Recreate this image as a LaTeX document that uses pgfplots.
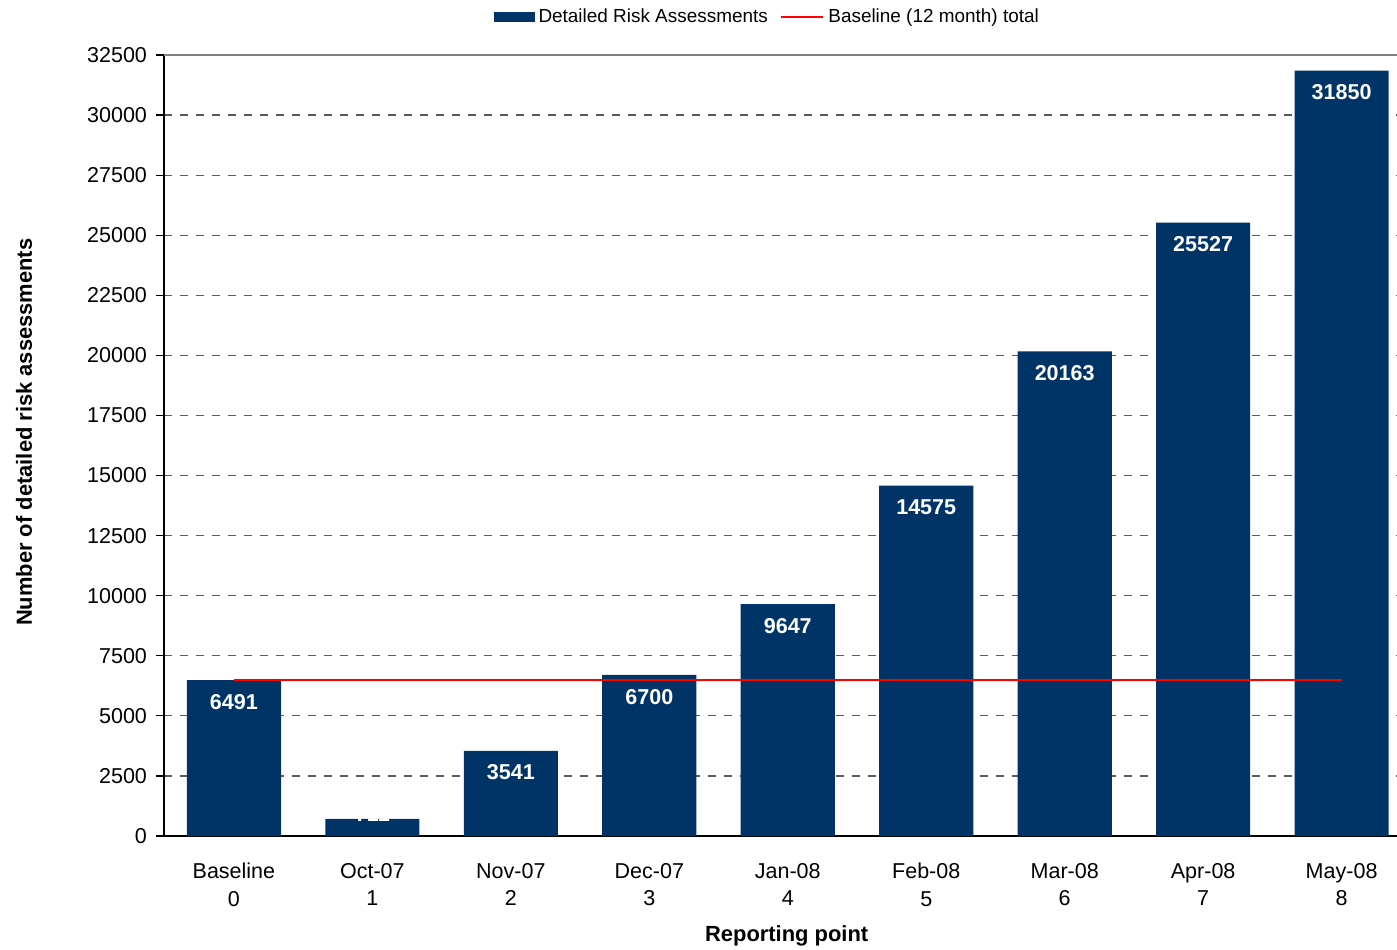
\documentclass[border=0pt]{standalone}
\usepackage{pgfplots}
\pgfplotsset{compat=1.18}
\usepackage{fontspec}
\setmainfont{Liberation Sans}
\definecolor{navy}{RGB}{0,51,102}
\definecolor{gridgray}{RGB}{90,90,90}
\begin{document}
\begin{tikzpicture}
\begin{axis}[
  at={(82bp,57bp)}, anchor=south west,
  scale only axis, width=616.5bp, height=390.5bp,
  xmin=-0.505, xmax=8.4, ymin=0, ymax=32500,
  axis x line*=bottom, axis y line*=left,
  axis line style={black, line width=0.8pt},
  ytick={0,2500,...,32500}, scaled y ticks=false,
  ymajorgrids, grid style={gridgray, dash pattern=on 4bp off 4bp, line width=0.6pt},
  xtick={0,...,8},
  xticklabels={{Baseline\\0},{Oct-07\\1},{Nov-07\\2},{Dec-07\\3},{Jan-08\\4},{Feb-08\\5},{Mar-08\\6},{Apr-08\\7},{May-08\\8}},
  xtick style={draw=none},
  extra x ticks={-0.5,0.5,...,7.5}, extra x tick labels={},
  extra x tick style={major tick length=8bp, tick align=outside, tick style={black, line width=0.6pt}, grid=none},
  ytick style={black, line width=0.6pt}, tick align=outside, major tick length=4bp,
  xticklabel style={align=center, font=\fontsize{10.8}{14}\selectfont, yshift=-6bp},
  yticklabel style={font=\fontsize{10.8}{13}\selectfont, xshift=-1bp},
  /pgf/number format/assume math mode=true,
  /pgf/number format/1000 sep={},
  xlabel={\bfseries Reporting point},
  xlabel style={font=\fontsize{11}{13}\selectfont, at={(axis description cs:0.505,-0.128)}, anchor=center},
  ylabel={\bfseries Number of detailed risk assessments},
  ylabel style={font=\fontsize{11}{13}\selectfont, at={(axis description cs:-0.1135,0.517)}, anchor=center},
  legend style={at={(axis description cs:0.49,1.0487)}, anchor=center, draw=none, fill=none,
    legend columns=2, font=\fontsize{9.5}{11}\selectfont,
    /tikz/every even column/.append style={column sep=4bp}},
  clip=false,
]
\addplot[ybar, bar width=0.68, fill=navy, draw=none,
  legend image code/.code={\fill[navy] (0bp,-2.5bp) rectangle (20.5bp,2.5bp);},
  point meta=explicit symbolic,
  nodes near coords,
  every node near coord/.append style={font=\bfseries\fontsize{10.8}{13}\selectfont, text=white, anchor=north, yshift=-3.5bp}]
  coordinates {(0,6491) [6491] (1,711) [{}] (2,3541) [3541] (3,6700) [6700] (4,9647) [9647] (5,14575) [14575] (6,20163) [20163] (7,25527) [25527] (8,31850) [31850]};
\addlegendentry{Detailed Risk Assessments}
\addplot[red, line width=1.3pt,
  legend image code/.code={\draw[red, line width=1.3pt] (0bp,0bp) -- (21bp,0bp);}]
  coordinates {(0,6491) (8,6491)};
\addlegendentry{Baseline (12 month) total}
\addplot[draw=none, mark=none, forget plot, point meta=explicit symbolic, nodes near coords,
  every node near coord/.append style={font=\bfseries\fontsize{10.8}{13}\selectfont, text=white, anchor=south, yshift=-4.6bp}]
  coordinates {(1,711) [711]};
\draw[gray, line width=0.8pt] (axis cs:-0.505,32500) -- (axis cs:8.4,32500);
\end{axis}
\pgfresetboundingbox
\path[use as bounding box] (0,0) rectangle (698.5bp,475bp);
\end{tikzpicture}
\end{document}
